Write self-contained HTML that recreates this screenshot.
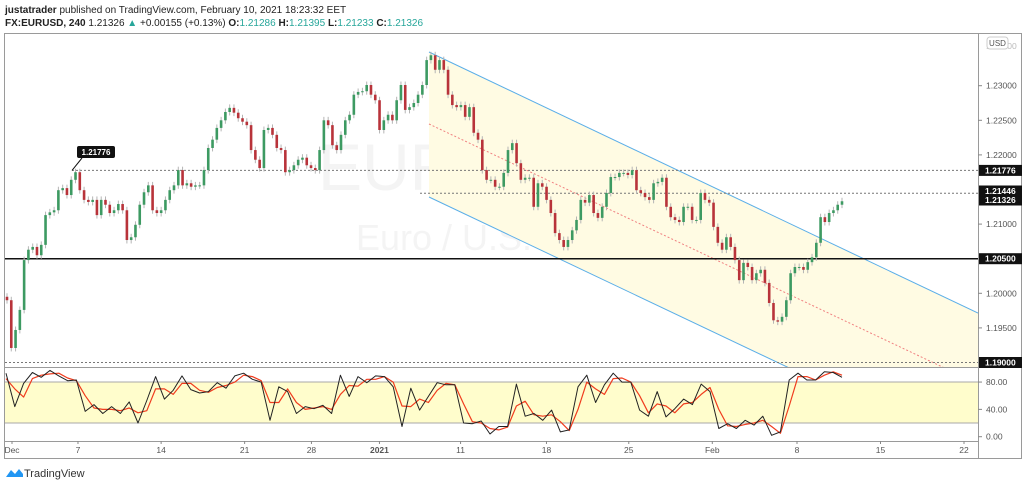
<!DOCTYPE html>
<html><head><meta charset="utf-8">
<style>
html,body{margin:0;padding:0;background:#fff;}
body{width:1024px;height:485px;overflow:hidden;font-family:"Liberation Sans",sans-serif;}
svg text{font-family:"Liberation Sans",sans-serif;}
</style></head>
<body>
<svg id="chart" width="1024" height="485" viewBox="0 0 1024 485" xmlns="http://www.w3.org/2000/svg">
  <text x="5" y="13" font-size="10" fill="#222"><tspan font-weight="bold">justatrader</tspan> published on TradingView.com, February 10, 2021 18:23:32 EET</text>
  <text x="5" y="26" font-size="10" fill="#222"><tspan font-weight="bold">FX:EURUSD, 240</tspan> 1.21326 <tspan fill="#26a69a">▲</tspan> +0.00155 (+0.13%) <tspan font-weight="bold">O:</tspan><tspan fill="#26a69a">1.21286</tspan> <tspan font-weight="bold">H:</tspan><tspan fill="#26a69a">1.21395</tspan> <tspan font-weight="bold">L:</tspan><tspan fill="#26a69a">1.21233</tspan> <tspan font-weight="bold">C:</tspan><tspan fill="#26a69a">1.21326</tspan></text>

  <rect x="4.5" y="33.5" width="1017" height="425" fill="#fff" stroke="#9a9a9a"/>
  <text x="318" y="190" font-size="66" fill="#f4f4f4">EURUSD</text>
  <text x="356" y="250" font-size="36" fill="#f4f4f4">Euro / U.S. Dollar</text>
  <g id="main"></g>
  <line x1="978.5" y1="33" x2="978.5" y2="458" stroke="#9a9a9a"/>
  <line x1="4" y1="367.5" x2="1022" y2="367.5" stroke="#9a9a9a"/>
  <line x1="4" y1="441.5" x2="978" y2="441.5" stroke="#9a9a9a"/>
  <g id="stoch"></g>
  <g id="axes"></g>

  <g>
    <path d="M6 477 l5 -7 l4 4 l4 -5 l4 5 v3 z" fill="#2196f3"/>
    <text x="24" y="477" font-size="11" fill="#333">TradingView</text>
  </g>
</svg>
<script>
// ---- data ----
const closes = [1.1990,1.1921,1.1947,1.1976,1.2048,1.2063,1.2067,1.2055,1.2070,1.2113,1.2117,1.2120,1.2149,1.2152,1.2142,1.2164,1.2175,1.2149,1.2135,1.2132,1.2135,1.2113,1.2135,1.2128,1.2116,1.2120,1.2129,1.2120,1.2077,1.2081,1.2099,1.2128,1.2146,1.2156,1.2120,1.2116,1.2120,1.2135,1.2149,1.2156,1.2178,1.2156,1.2159,1.2154,1.2156,1.2156,1.2178,1.2210,1.2222,1.2239,1.2250,1.2262,1.2268,1.2261,1.2253,1.2248,1.2243,1.2207,1.2193,1.2181,1.2236,1.2239,1.2229,1.2210,1.2207,1.2175,1.2178,1.2185,1.2193,1.2196,1.2185,1.2181,1.2178,1.2207,1.2250,1.2243,1.2214,1.2207,1.2229,1.2250,1.2258,1.2287,1.2291,1.2292,1.2301,1.2287,1.2279,1.2236,1.2250,1.2258,1.2250,1.2279,1.2301,1.2265,1.2269,1.2275,1.2287,1.2301,1.2337,1.2344,1.2323,1.2337,1.2323,1.2287,1.2272,1.2269,1.2272,1.2255,1.2269,1.2232,1.2222,1.2178,1.2164,1.2164,1.2154,1.2154,1.2174,1.2207,1.2217,1.2188,1.2164,1.2167,1.2167,1.2125,1.2159,1.2154,1.2135,1.2116,1.2087,1.2077,1.2067,1.2077,1.2091,1.2106,1.2135,1.2131,1.2142,1.2116,1.2109,1.2125,1.2145,1.2168,1.2168,1.2174,1.2174,1.2171,1.2178,1.2149,1.2145,1.2139,1.2135,1.2159,1.2161,1.2167,1.2125,1.2110,1.2106,1.2103,1.2125,1.2125,1.2106,1.2106,1.2145,1.2135,1.2131,1.2096,1.2073,1.2063,1.2081,1.2067,1.2048,1.2019,1.2044,1.2038,1.2019,1.2029,1.2034,1.2015,1.1986,1.1961,1.1959,1.1966,1.1990,1.2029,1.2038,1.2038,1.2034,1.2045,1.2052,1.2073,1.2110,1.2103,1.2116,1.2120,1.2128,1.2133];
const stochK = [93,44,78,94,87,97,89,82,83,37,47,34,44,34,51,20,53,88,55,68,89,69,64,66,79,71,89,93,84,80,24,73,66,34,44,41,46,34,90,59,88,79,89,88,73,15,71,39,59,79,76,76,20,19,23,4,15,15,77,30,34,24,39,7,10,73,90,50,76,93,80,80,39,30,66,29,41,55,47,77,66,12,19,12,24,17,30,2,7,83,93,83,83,95,94,87];
const stochD = [85,70,58,85,90,92,93,86,82,60,42,40,40,38,42,35,38,70,70,62,78,78,68,65,72,75,80,90,88,82,50,50,70,50,40,42,44,40,62,75,74,84,84,88,80,45,44,55,50,68,78,76,48,22,20,12,10,14,45,52,32,30,32,22,9,40,80,70,62,85,86,80,60,35,48,45,35,48,50,62,72,40,16,15,18,20,24,15,5,45,88,88,83,90,95,90];
const priceTicks = [1.195,1.200,1.210,1.220,1.225,1.230];
const tagLevels = [1.21776,1.21446,1.21326,1.20500,1.19000];
const stochTicks = [80,40,0];
const dateLabels = ["Dec","7","14","21","28","2021","11","18","25","Feb","8","15","22"];
// session offsets (trading-time units) of each date label
const dateSessions = [0,5.53,12.5,19.5,25.1,30.8,37.6,44.8,51.7,58.7,65.8,72.8,79.8];
const startOpen = 1.1995;

// ---- axes ----
const yP = p => 362.5 - (p - 1.19) * 6920;
const yS = v => 436.7 - v * 0.683;
const xBar = (i, n) => 7 + i * (842 - 7) / (n - 1);
const xDay = d => 12 + d * 11.93;
const NS = "http://www.w3.org/2000/svg";
function mk(tag, attrs, parent){ const e=document.createElementNS(NS,tag); for(const k in attrs) e.setAttribute(k,attrs[k]); parent.appendChild(e); return e; }
const main = document.getElementById('main');
const stoch = document.getElementById('stoch');
const axes = document.getElementById('axes');

// channel
const chTop = x => 52 + (x - 429) * 0.4756;
const chBot = x => 197 + (x - 429) * 0.4746;
const chMid = x => 124 + (x - 429) * 0.4733;
const defs = mk('defs',{},main);
const cp = mk('clipPath',{id:'mainclip'},defs);
mk('rect',{x:5,y:34,width:973,height:333},cp);
const chanG = mk('g',{'clip-path':'url(#mainclip)'},main);


mk('polygon',{points:`429,${chTop(429)} 978,${chTop(978)} 978,${chBot(978)} 429,${chBot(429)}`,fill:'#fffbe3'},chanG);
mk('line',{x1:429,y1:chTop(429),x2:978,y2:chTop(978),stroke:'#5aaee8','stroke-width':1},chanG);
mk('line',{x1:429,y1:chBot(429),x2:978,y2:chBot(978),stroke:'#5aaee8','stroke-width':1},chanG);
mk('line',{x1:429,y1:chMid(429),x2:978,y2:chMid(978),stroke:'#f08080','stroke-width':1,'stroke-dasharray':'2,2'},chanG);

// horizontal levels
const l1 = mk('line',{x1:5,y1:yP(1.205),x2:978,y2:yP(1.205),stroke:'#111','stroke-width':1.5},main);


const l2 = mk('line',{x1:72,y1:yP(1.21776),x2:978,y2:yP(1.21776),stroke:'#777','stroke-dasharray':'2,2'},main);


const l3 = mk('line',{x1:420,y1:yP(1.21446),x2:978,y2:yP(1.21446),stroke:'#777','stroke-dasharray':'2,2'},main);


const l4 = mk('line',{x1:5,y1:yP(1.19),x2:978,y2:yP(1.19),stroke:'#777','stroke-dasharray':'2,2'},main);



// callout
const co = mk('g',{},main);


mk('line',{x1:72,y1:yP(1.21776),x2:82,y2:158,stroke:'#111'},co);
mk('rect',{x:77,y:146,width:38,height:12,rx:2,fill:'#111'},co);
const ct = mk('text',{x:96,y:155,'font-size':8,'font-weight':'bold',fill:'#fff','text-anchor':'middle'},co);
ct.textContent = '1.21776';

// candles
const n = closes.length;
for(let i=0;i<n;i++){
  const o = i===0 ? startOpen : closes[i-1];
  const c = closes[i];
  const x = xBar(i,n);
  const hi = Math.max(o,c)+0.0005, lo = Math.min(o,c)-0.0005;
  const g = mk('g',{},main);
  
  
  mk('line',{x1:x,y1:yP(hi),x2:x,y2:yP(lo),stroke:'#b5b5b5','stroke-width':1},g);
  const top = yP(Math.max(o,c)), bot = yP(Math.min(o,c));
  mk('rect',{x:x-1.3,y:top,width:2.6,height:Math.max(1,bot-top),fill: c>=o ? '#3d9a62' : '#b8333a'},g);
}

// stochastic
mk('rect',{x:5,y:yS(80),width:973,height:yS(20)-yS(80),fill:'#fffdcc'},stoch);
mk('line',{x1:5,y1:yS(80),x2:978,y2:yS(80),stroke:'#a8a8a8'},stoch);
mk('line',{x1:5,y1:yS(20),x2:978,y2:yS(20),stroke:'#a8a8a8'},stoch);
const ns = stochK.length;
const kp = stochK.map((v,i)=>`${(6+i*(842-6)/(ns-1)).toFixed(1)},${yS(v).toFixed(1)}`).join(' ');
const dp = stochD.map((v,i)=>`${(6+i*(842-6)/(ns-1)).toFixed(1)},${yS(v).toFixed(1)}`).join(' ');
const dl = mk('polyline',{points:dp,fill:'none',stroke:'#f03c1e','stroke-width':1.2,'stroke-linejoin':'round'},stoch);


const kl = mk('polyline',{points:kp,fill:'none',stroke:'#222','stroke-width':1,'stroke-linejoin':'round'},stoch);



// price axis
priceTicks.forEach(p=>{
  const y = yP(p);
  mk('line',{x1:978,y1:y,x2:982,y2:y,stroke:'#888'},axes);
  const t = mk('text',{x:986,y:y+3,'font-size':8.5,fill:'#555'},axes);
  
  
  t.textContent = p.toFixed(5);
});
{
  const t = mk('text',{x:986,y:49,'font-size':8.5,fill:'#bbb'},axes);
  
  
  t.textContent = '1.23500';
  const ub = mk('rect',{x:987,y:37,width:21,height:12,rx:3,fill:'#fff',stroke:'#ccc'},axes);
  
  
  const ut = mk('text',{x:997.5,y:46,'font-size':8,fill:'#555','text-anchor':'middle'},axes);
  ut.textContent = 'USD';
}
tagLevels.forEach(p=>{
  let y = yP(p);
  if(p===1.21446) y = 191; if(p===1.21326) y = 200;
  const g = mk('g',{},axes);
  
  
  mk('rect',{x:979,y:y-5.5,width:43,height:11,fill:'#111'},g);
  const t = mk('text',{x:985,y:y+3,'font-size':8.5,'font-weight':'bold',fill:'#fff'},g);
  t.textContent = p.toFixed(5);
});
stochTicks.forEach(v=>{
  const y = yS(v);
  mk('line',{x1:978,y1:y,x2:982,y2:y,stroke:'#888'},axes);
  const t = mk('text',{x:986,y:y+3,'font-size':8.5,fill:'#555'},axes);
  
  
  t.textContent = v.toFixed(2);
});
// time axis
dateLabels.forEach((lab,i)=>{
  const x = xDay(dateSessions[i]);
  mk('line',{x1:x,y1:441,x2:x,y2:444,stroke:'#888'},axes);
  const t = mk('text',{x:x,y:453,'font-size':8.5,fill:'#555','text-anchor':'middle','font-weight': lab==='2021'?'bold':'normal'},axes);
  
  
  t.textContent = lab;
});
</script>
</body></html>
